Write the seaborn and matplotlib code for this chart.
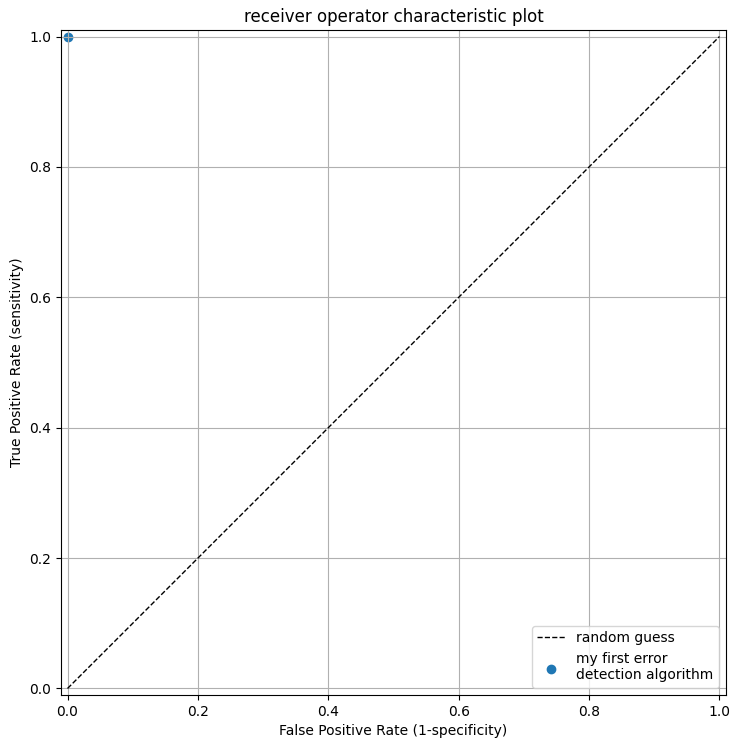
# ROC plot: one detector point against the random-guess diagonal
import matplotlib
matplotlib.use("Agg")
import matplotlib.pyplot as plt
import seaborn as sb
import pandas as pd

# data
guess_fpr = [0.0, 1.0]
guess_tpr = [0.0, 1.0]
algo_fpr = [0.0]
algo_tpr = [1.0]
algo_name = "my first error\ndetection algorithm"

guess = pd.DataFrame({"fpr": guess_fpr, "tpr": guess_tpr})
algo = pd.DataFrame({"fpr": algo_fpr, "tpr": algo_tpr})

fig = plt.figure(figsize=(7.4, 7.48), dpi=100)
ax = fig.add_subplot(111)

sb.lineplot(data=guess, x="fpr", y="tpr", color="black", linestyle="--",
            linewidth=1, label="random guess", ax=ax)
sb.scatterplot(data=algo, x="fpr", y="tpr", color="#1f77b4", s=36,
               edgecolor="face", linewidth=1.0, label=algo_name, ax=ax)

ax.set_xlim(-0.01, 1.01)
ax.set_ylim(-0.01, 1.01)
ax.set_aspect("equal")
ax.grid(True)
ax.set_title("receiver operator characteristic plot")
ax.set_xlabel("False Positive Rate (1-specificity)")
ax.set_ylabel("True Positive Rate (sensitivity)")
ax.legend(loc="lower right")

fig.subplots_adjust(left=61/740, right=726/740, bottom=1-695/748, top=1-30/748)
plt.savefig("out.png", dpi=100)
